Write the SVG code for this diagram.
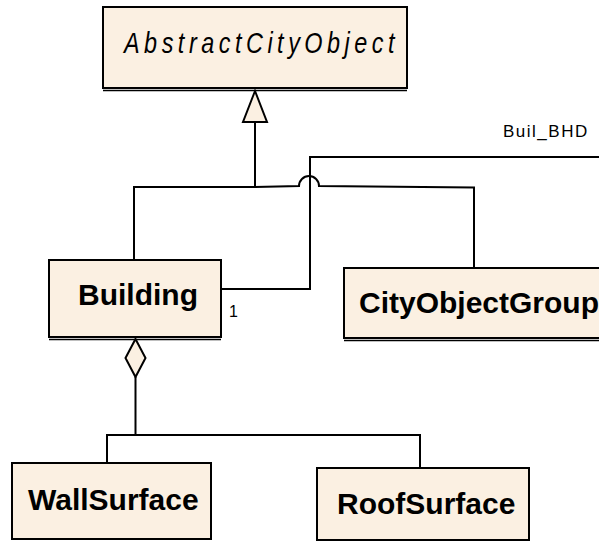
<svg xmlns="http://www.w3.org/2000/svg" width="599" height="542" viewBox="0 0 599 542">
  <style>
    .box { fill: #FBF0E2; stroke: #000; stroke-width: 2; }
    .under { stroke: #000; stroke-width: 1.5; fill: none; }
    .name { font-family: "Liberation Sans", Arial, sans-serif; font-weight: bold; font-size: 30px; fill: #000; }
    .abstract { font-family: "Liberation Sans", Arial, sans-serif; font-style: italic; font-size: 30px; fill: #000; }
    .label { font-family: "Liberation Sans", Arial, sans-serif; font-size: 17px; fill: #000; }
    .small { font-size: 16px; }
    .line { stroke: #000; stroke-width: 2; fill: none; }
    .head { stroke: #000; stroke-width: 2; fill: #FBF0E2; stroke-linejoin: miter; }
  </style>
  <rect width="599" height="542" fill="#fff"/>

  <g id="connectors">
    <!-- generalization tree to AbstractCityObject -->
    <path class="line" d="M134,260 V187 H255 V122"/>
    <path class="line" d="M255,187 L299,186 A10,10 0 0 1 319,186 L474,187.5 V268"/>
    <polygon class="head" points="255,91 243,122 267,122"/>
    <!-- association Buil_BHD -->
    <path class="line" d="M221,289 H310 V157 H599"/>
    <!-- aggregation Building to surfaces -->
    <path class="line" d="M135.5,377 V435 M107,463 V435 H420 V468"/>
    <polygon class="head" points="135.5,339 145.5,358 135.5,377 125.5,358"/>
    <text class="label" x="503" y="137" letter-spacing="1.5">Buil_BHD</text>
    <text class="label small" x="229" y="317">1</text>
  </g>

  <g id="AbstractCityObject">
    <rect class="box" x="103" y="7" width="304" height="81"/>
    <line class="under" x1="103" y1="90.5" x2="407" y2="90.5"/>
    <text class="abstract" transform="translate(124,53) scale(0.78,1)" letter-spacing="5.8">AbstractCityObject</text>
  </g>

  <g id="Building">
    <rect class="box" x="49" y="260" width="172" height="77"/>
    <line class="under" x1="49" y1="339.5" x2="221" y2="339.5"/>
    <text class="name" x="78" y="305">Building</text>
  </g>

  <g id="CityObjectGroup">
    <rect class="box" x="344" y="268" width="270" height="70"/>
    <line class="under" x1="344" y1="340.5" x2="614" y2="340.5"/>
    <text class="name" x="359" y="313">CityObjectGroup</text>
  </g>

  <g id="WallSurface">
    <rect class="box" x="12" y="463" width="199" height="76"/>
    <text class="name" x="28" y="510">WallSurface</text>
  </g>

  <g id="RoofSurface">
    <rect class="box" x="317" y="468" width="212" height="72"/>
    <text class="name" x="337" y="514">RoofSurface</text>
  </g>
</svg>
